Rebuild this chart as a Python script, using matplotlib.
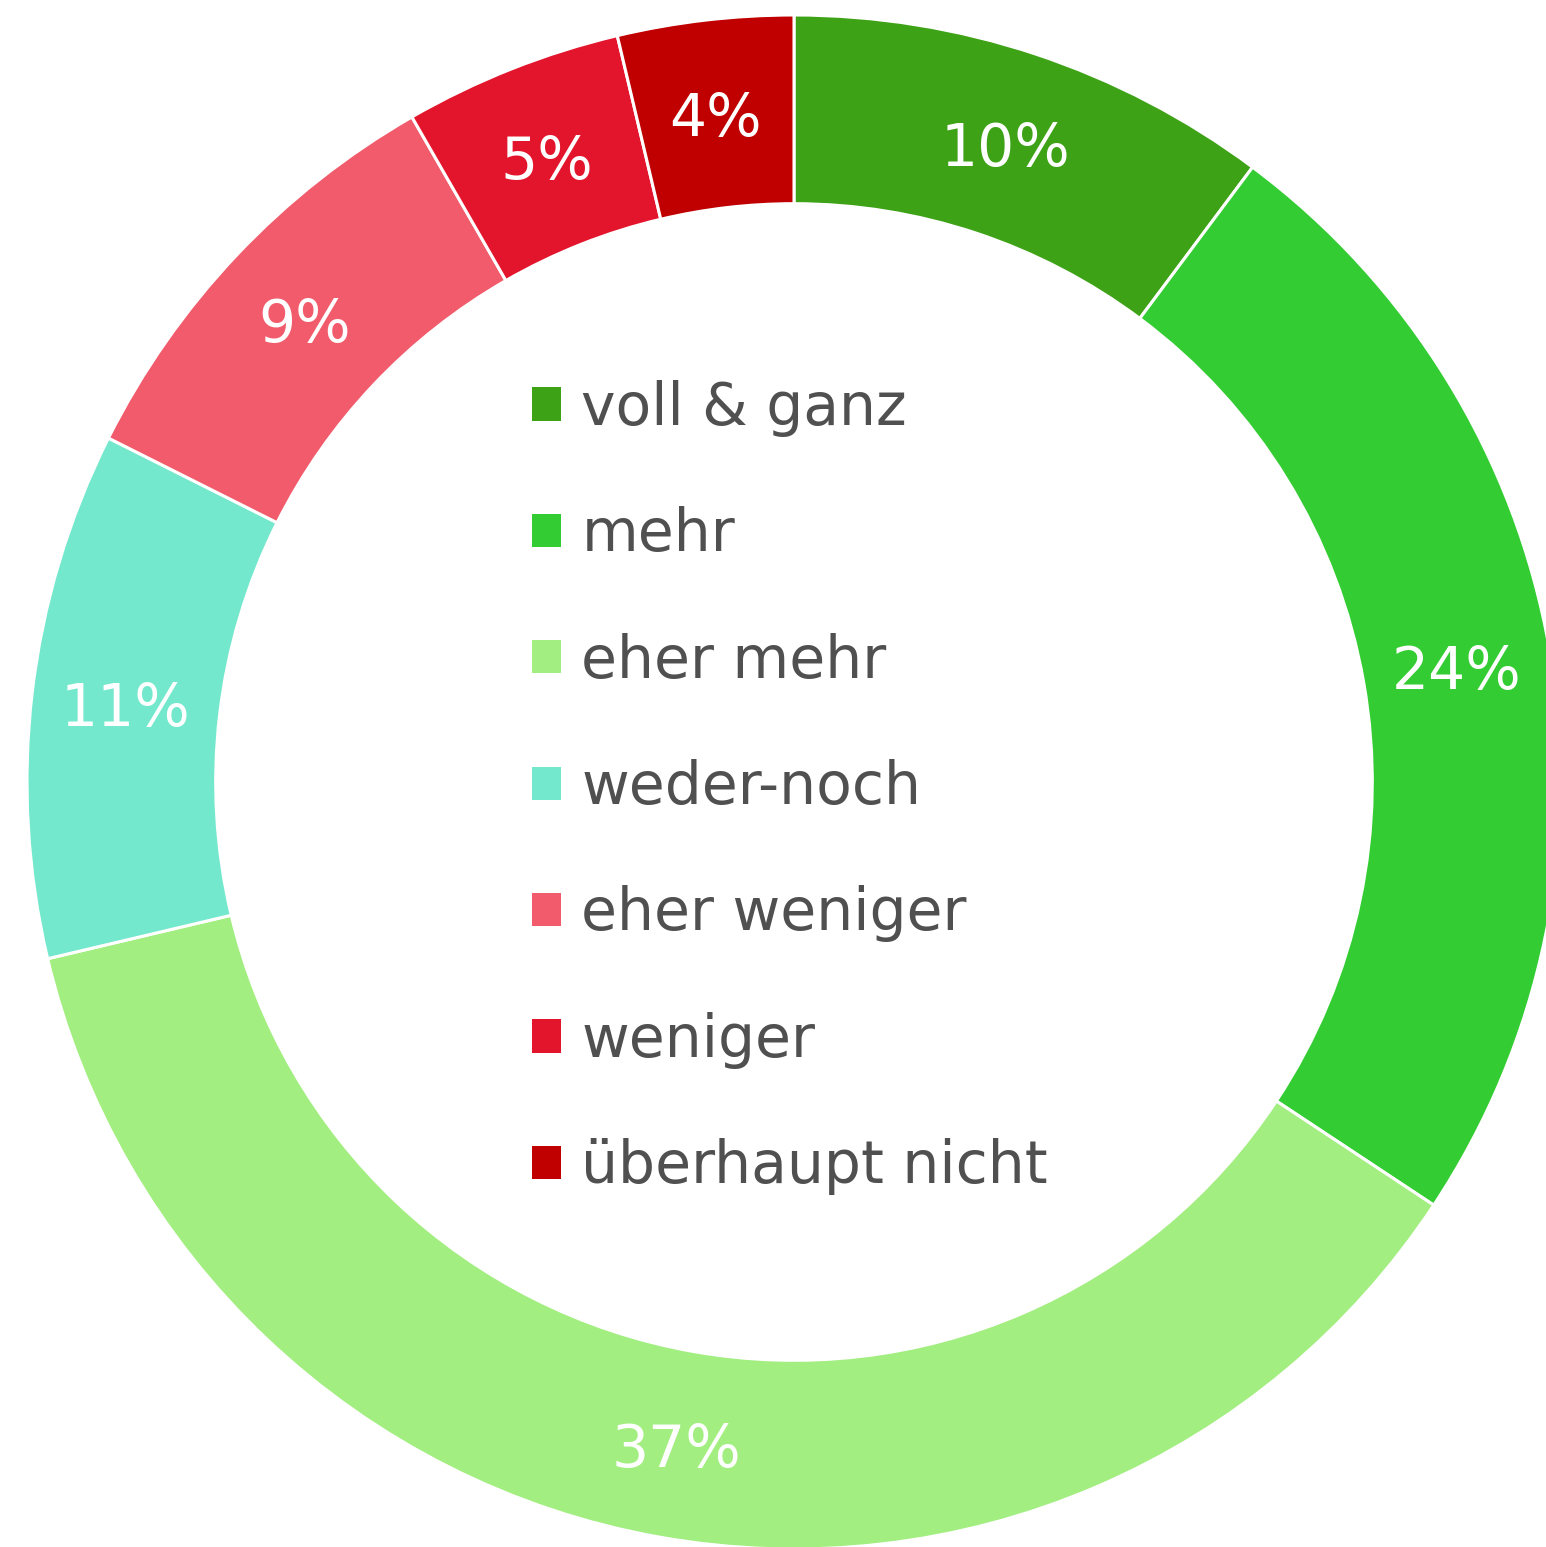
import numpy as np
import matplotlib.pyplot as plt

# answer categories and shares (percent)
labels = ['voll & ganz', 'mehr', 'eher mehr', 'weder-noch',
          'eher weniger', 'weniger', 'überhaupt nicht']
shares = [10.2, 24.1, 37.0, 11.1, 9.3, 4.6, 3.7]
colors = ['#3DA216', '#33CC33', '#A2EE80', '#73E8CD',
          '#F15B6B', '#E3152D', '#C00000']

plt.rcParams['font.family'] = ['DejaVu Sans']

fig = plt.figure(figsize=(15.46, 15.47), dpi=100)
ax = fig.add_axes([0, 0, 1, 1])

ring = 0.246
wedges, texts, autotexts = ax.pie(
    shares, colors=colors, startangle=90, counterclock=False, radius=1,
    autopct=lambda p: f'{p:.0f}%', pctdistance=1 - ring / 2,
    wedgeprops=dict(width=ring, edgecolor='white', linewidth=2.2),
    textprops=dict(color='white', fontsize=42))
# nudge percent labels a bit down
for t in autotexts:
    x, y = t.get_position()
    t.set_position((x, y - 6 / 767))

# place the donut like the reference (center at 794,782 px, r = 767 px)
ax.set_aspect('auto')
ax.set_xlim(-794 / 767, (1546 - 794) / 767)
ax.set_ylim(-(1547 - 782) / 767, 782 / 767)
ax.axis('off')

leg = ax.legend(wedges, labels, loc='center', bbox_to_anchor=(0.511, 0.491),
                frameon=False, fontsize=42, labelcolor='#505050',
                handlelength=0.5, handleheight=0.5, handletextpad=0.35,
                labelspacing=1.19)
for h in leg.legend_handles:
    h.set_linewidth(0)

fig.savefig('out.png', dpi=100)
